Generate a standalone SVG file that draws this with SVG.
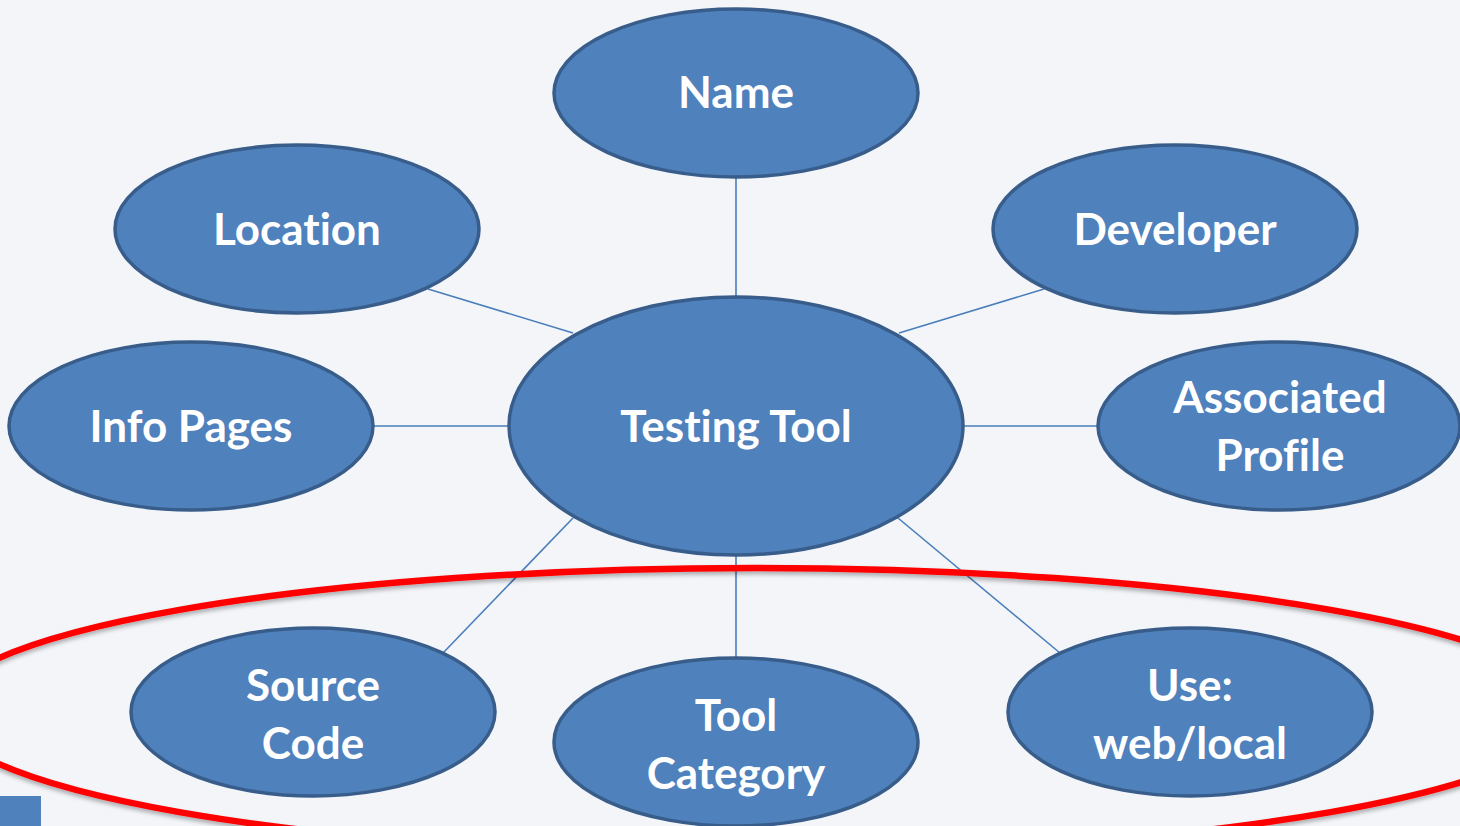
<svg xmlns="http://www.w3.org/2000/svg" width="1460" height="826" viewBox="0 0 1460 826">
<defs>
<style>
.node{fill:#4F81BD;stroke:#385D8A;stroke-width:3.5}
.lbl{font-family:Lato,"Liberation Sans",sans-serif;font-weight:bold;font-size:44px;fill:#FFFFFF;text-anchor:middle;font-variant-ligatures:none}
.conn line{stroke:#4A7EBB;stroke-width:1.6}
</style>
<filter id="sh" x="-10%" y="-10%" width="120%" height="130%">
<feDropShadow dx="0" dy="3" stdDeviation="2" flood-color="#000" flood-opacity="0.3"/>
</filter>
</defs>
<rect width="1460" height="826" fill="#F3F5F9"/>
<g id="connectors" class="conn">
<line x1="736" y1="177" x2="736" y2="296"/>
<line x1="428" y1="289" x2="573" y2="333"/>
<line x1="1044" y1="289" x2="899" y2="333"/>
<line x1="373" y1="426" x2="509" y2="426"/>
<line x1="963" y1="426" x2="1098" y2="426"/>
<line x1="443" y1="653" x2="573" y2="518"/>
<line x1="736" y1="555" x2="736" y2="659"/>
<line x1="1060" y1="653" x2="898" y2="518"/>
</g>
<g id="highlight">
<ellipse cx="755" cy="711" rx="814" ry="143" fill="none" stroke="#FF0000" stroke-width="6.5" filter="url(#sh)"/>
</g>
<rect id="corner" x="0" y="796" width="41" height="30" fill="#4F81BD"/>
<g id="name"><ellipse class="node" cx="736" cy="93" rx="182" ry="84"/><text class="lbl" x="736" y="108">Name</text></g>
<g id="location"><ellipse class="node" cx="297" cy="229" rx="182" ry="84"/><text class="lbl" x="297" y="245">Location</text></g>
<g id="developer"><ellipse class="node" cx="1175" cy="229" rx="182" ry="84"/><text class="lbl" x="1175" y="245">Developer</text></g>
<g id="info-pages"><ellipse class="node" cx="191" cy="426" rx="182" ry="84"/><text class="lbl" x="191" y="442">Info Pages</text></g>
<g id="testing-tool"><ellipse class="node" cx="736" cy="426" rx="227" ry="129"/><text class="lbl" x="736" y="442">Testing Tool</text></g>
<g id="associated-profile"><ellipse class="node" cx="1279" cy="426" rx="181" ry="84"/><text class="lbl" x="1280" y="413">Associated</text><text class="lbl" x="1280" y="471">Profile</text></g>
<g id="source-code"><ellipse class="node" cx="313" cy="712" rx="182" ry="84"/><text class="lbl" x="313" y="701">Source</text><text class="lbl" x="313" y="759">Code</text></g>
<g id="tool-category"><ellipse class="node" cx="736" cy="742" rx="182" ry="84"/><text class="lbl" x="736" y="731">Tool</text><text class="lbl" x="736" y="789">Category</text></g>
<g id="use"><ellipse class="node" cx="1190" cy="712" rx="182" ry="84"/><text class="lbl" x="1190" y="701">Use:</text><text class="lbl" x="1190" y="759">web/local</text></g>
</svg>
